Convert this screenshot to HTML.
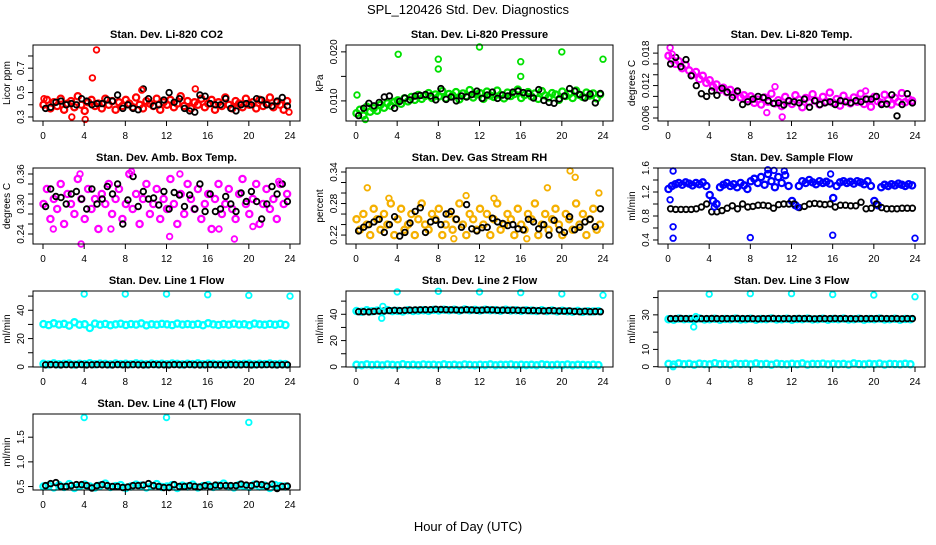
<!DOCTYPE html>
<html><head><meta charset="utf-8">
<style>
body{margin:0;background:#fff;}
svg text{font-family:"Liberation Sans",Arial,sans-serif;}
</style></head>
<body>
<svg id="chart" width="936" height="540" xmlns="http://www.w3.org/2000/svg">
<rect width="936" height="540" fill="#fff"/>
<text x="468" y="14" text-anchor="middle" font-size="13">SPL_120426  Std. Dev. Diagnostics</text>
<text x="468" y="531" text-anchor="middle" font-size="13">Hour of Day (UTC)</text>
</svg>
<script>
// ---- data ----
const co2Col=[0.40,0.44,0.37,0.42,0.39,0.45,0.36,0.41,0.43,0.38,0.47,0.40,0.35,0.42,0.44,0.39,0.41,0.37,0.45,0.40,0.43,0.36,0.42,0.39,0.44,0.41,0.38,0.46,0.40,0.37,0.43,0.41,0.39,0.45,0.36,0.42,0.40,0.44,0.38,0.41,0.47,0.39,0.43,0.37,0.42,0.40,0.45,0.38,0.41,0.44,0.36,0.42,0.39,0.46,0.40,0.37,0.43,0.41,0.38,0.45,0.40,0.42,0.37,0.44,0.39,0.41,0.46,0.38,0.42,0.40,0.36,0.43];
const co2Blk=[0.37,0.38,0.42,0.43,0.40,0.41,0.40,0.45,0.43,0.40,0.41,0.41,0.44,0.43,0.48,0.37,0.40,0.37,0.36,0.53,0.45,0.39,0.40,0.44,0.50,0.42,0.45,0.37,0.35,0.34,0.48,0.47,0.41,0.40,0.40,0.45,0.37,0.35,0.40,0.41,0.40,0.45,0.44,0.40,0.39,0.43,0.46,0.39];
const co2OutX=[5.2,4.8,2.8,4.1,9.6,14.8,0.1,23.9];
const co2OutY=[0.85,0.62,0.30,0.28,0.52,0.53,0.45,0.34];

const presCol=[0.0075,0.0082,0.0070,0.0088,0.0078,0.0085,0.0080,0.0092,0.0086,0.0095,0.0090,0.0098,0.0101,0.0094,0.0105,0.0099,0.0108,0.0102,0.0112,0.0104,0.0110,0.0116,0.0106,0.0113,0.0109,0.0120,0.0105,0.0114,0.0111,0.0118,0.0103,0.0115,0.0110,0.0122,0.0107,0.0113,0.0116,0.0104,0.0119,0.0111,0.0108,0.0121,0.0112,0.0105,0.0117,0.0110,0.0114,0.0123,0.0106,0.0112,0.0118,0.0109,0.0115,0.0104,0.0120,0.0111,0.0107,0.0116,0.0113,0.0102,0.0119,0.0110,0.0114,0.0106,0.0121,0.0112,0.0108,0.0117,0.0111,0.0115,0.0105,0.0113];
const presBlk=[0.0070,0.0085,0.0095,0.0090,0.0097,0.0108,0.0110,0.0085,0.0099,0.0106,0.0102,0.0110,0.0111,0.0113,0.0110,0.0102,0.0125,0.0103,0.0108,0.0100,0.0110,0.0108,0.0113,0.0120,0.0105,0.0112,0.0118,0.0105,0.0112,0.0110,0.0118,0.0120,0.0117,0.0115,0.0106,0.0123,0.0101,0.0097,0.0095,0.0104,0.0110,0.0125,0.0120,0.0113,0.0106,0.0114,0.0096,0.0115];
const presOutX=[4.1,8,8,12,16,16,20,24,0.1,0.9];
const presOutY=[0.0195,0.0185,0.0165,0.0210,0.0180,0.0150,0.0200,0.0185,0.0112,0.0062];

const tempCol=[0.0175,0.0168,0.0160,0.0165,0.0152,0.0158,0.0148,0.0140,0.0145,0.0132,0.0138,0.0125,0.0130,0.0118,0.0122,0.0112,0.0116,0.0108,0.0112,0.0103,0.0107,0.0098,0.0102,0.0095,0.0100,0.0088,0.0094,0.0085,0.0098,0.0090,0.0105,0.0087,0.0093,0.0082,0.0099,0.0091,0.0086,0.0102,0.0094,0.0080,0.0097,0.0089,0.0104,0.0092,0.0085,0.0099,0.0090,0.0107,0.0088,0.0095,0.0083,0.0101,0.0092,0.0087,0.0098,0.0090,0.0105,0.0086,0.0094,0.0081,0.0099,0.0091,0.0088,0.0103,0.0093,0.0085,0.0097,0.0090,0.0106,0.0089,0.0095,0.0092];
const tempBlk=[0.0160,0.0172,0.0155,0.0168,0.0138,0.0120,0.0105,0.0100,0.0110,0.0102,0.0115,0.0108,0.0098,0.0110,0.0085,0.0090,0.0095,0.0100,0.0098,0.0092,0.0087,0.0088,0.0084,0.0092,0.0090,0.0088,0.0095,0.0080,0.0092,0.0085,0.0088,0.0090,0.0085,0.0092,0.0090,0.0088,0.0092,0.0090,0.0095,0.0095,0.0100,0.0085,0.0086,0.0103,0.0064,0.0085,0.0105,0.0088];
const tempOutX=[0.2,11.1,9.6,10.4,19.2,0.4];
const tempOutY=[0.0190,0.0062,0.0070,0.0118,0.0110,0.0178];

const ambCol=[0.30,0.33,0.27,0.31,0.29,0.34,0.26,0.32,0.30,0.28,0.35,0.31,0.27,0.33,0.29,0.31,0.25,0.32,0.30,0.34,0.28,0.31,0.33,0.27,0.30,0.36,0.29,0.32,0.26,0.31,0.34,0.28,0.30,0.33,0.27,0.31,0.29,0.35,0.30,0.26,0.32,0.28,0.34,0.31,0.29,0.33,0.27,0.30,0.32,0.25,0.31,0.34,0.28,0.30,0.33,0.29,0.27,0.32,0.35,0.30,0.28,0.31,0.34,0.26,0.30,0.33,0.29,0.31,0.27,0.34,0.30,0.32];
const ambBlk=[0.295,0.33,0.315,0.313,0.30,0.32,0.325,0.31,0.29,0.33,0.30,0.31,0.335,0.32,0.34,0.26,0.308,0.355,0.295,0.325,0.31,0.312,0.298,0.325,0.29,0.323,0.318,0.295,0.318,0.29,0.34,0.285,0.32,0.285,0.29,0.315,0.30,0.285,0.322,0.305,0.325,0.305,0.27,0.30,0.335,0.32,0.34,0.305];
const ambOutX=[3.7,12.3,18.6,8.6,13.3,3.6,1.0,6.6,17.1,20.4,22.9];
const ambOutY=[0.22,0.235,0.23,0.365,0.36,0.36,0.25,0.25,0.25,0.255,0.345];

const rhCol=[0.25,0.23,0.26,0.24,0.22,0.27,0.25,0.23,0.26,0.24,0.28,0.22,0.25,0.27,0.23,0.24,0.26,0.22,0.25,0.28,0.24,0.23,0.26,0.25,0.27,0.22,0.24,0.26,0.23,0.25,0.28,0.24,0.22,0.26,0.25,0.23,0.27,0.24,0.26,0.22,0.25,0.28,0.23,0.24,0.26,0.25,0.22,0.27,0.24,0.23,0.26,0.25,0.28,0.22,0.24,0.26,0.23,0.25,0.27,0.24,0.22,0.26,0.25,0.23,0.28,0.24,0.26,0.22,0.25,0.27,0.23,0.24];
const rhBlk=[0.228,0.235,0.24,0.245,0.25,0.225,0.24,0.255,0.218,0.225,0.243,0.265,0.272,0.225,0.245,0.248,0.24,0.26,0.265,0.25,0.235,0.278,0.232,0.228,0.234,0.235,0.252,0.245,0.242,0.238,0.24,0.232,0.23,0.25,0.245,0.232,0.24,0.22,0.248,0.23,0.225,0.255,0.23,0.235,0.245,0.25,0.236,0.27];
const rhOutX=[20.8,21.3,1.1,18.6,3.2,10.7,13.4,23.6,9.5,16.6];
const rhOutY=[0.342,0.33,0.31,0.31,0.29,0.295,0.29,0.30,0.213,0.213];

const flowCol=[1.25,1.30,1.33,1.35,1.32,1.36,1.34,1.31,1.35,1.33,1.36,1.30,1.15,1.05,1.00,1.28,1.32,1.35,1.30,1.33,1.28,1.35,1.31,1.25,1.38,1.42,1.35,1.45,1.32,1.50,1.38,1.28,1.45,1.35,1.48,1.30,1.05,0.98,1.30,1.38,1.35,1.40,1.36,1.33,1.38,1.35,1.37,1.34,1.10,1.30,1.36,1.38,1.35,1.37,1.34,1.38,1.36,1.33,1.38,1.30,1.05,0.98,1.28,1.32,1.30,1.33,1.31,1.34,1.32,1.30,1.33,1.31];
const flowBlk=[0.92,0.91,0.91,0.91,0.91,0.92,0.95,1.0,0.87,0.87,0.89,0.93,0.97,0.92,1.0,0.95,0.96,0.98,0.98,0.97,0.93,0.99,1.0,1.0,1.0,0.94,0.96,1.0,1.01,1.0,0.99,1.0,0.95,0.98,0.98,0.97,0.97,1.03,0.92,0.93,1.0,0.94,0.92,0.92,0.92,0.93,0.93,0.93];
const flowOutX=[0.5,0.5,8,16,24,0.5,0.2,9.7,10.3,11.3,15.8,4.5,12.6];
const flowOutY=[0.62,0.43,0.44,0.48,0.43,1.55,1.07,1.57,1.56,1.55,1.50,0.95,0.95];

const l1Col=[30.2,29.5,30.8,29.9,30.4,29.2,31.5,29.8,30.1,27.5,30.6,29.7,30.3,29.4,30.0,30.5,29.6,30.2,29.9,30.7,29.3,30.1,29.8,30.4,30.0,29.5,30.6,29.9,30.2,29.7,30.3,29.4,30.8,30.0,29.6,30.2,29.8,30.5,29.9,30.1,29.4,30.6,30.0,29.7,30.3,29.8,30.4,29.6];
const l1Low=[2.2,1.8,2.5,1.9,2.1,2.4,1.7,2.2,2.0,2.6,1.9,2.3,2.1,1.8,2.4,2.0,2.2,1.9,2.5,2.1,1.8,2.3,2.0,2.2,1.9,2.4,2.1,1.8,2.2,2.0,2.5,1.9,2.3,2.1,1.8,2.2,2.0,2.4,1.9,2.1,2.3,1.8,2.2,2.0,2.4,1.9,2.1,2.0];
const l1Blk=[1.5,1.6,1.5,1.4,1.6,1.5,1.5,1.6,1.4,1.5,1.6,1.5,1.5,1.4,1.6,1.5,1.5,1.6,1.5,1.4,1.5,1.6,1.5,1.5,1.4,1.6,1.5,1.5,1.6,1.5,1.4,1.5,1.6,1.5,1.5,1.4,1.6,1.5,1.5,1.6,1.4,1.5,1.5,1.6,1.5,1.4,1.5,1.5];
const l1OutX=[4,8,12,16,20,24];
const l1OutY=[51.5,51.5,51.5,51,50.5,50];

const l2Col=[42.5,42.0,43.0,42.3,42.8,41.9,43.2,42.4,42.6,42.1,43.0,42.5,42.8,43.1,42.6,43.3,42.9,43.5,43.0,43.4,42.8,43.6,43.1,43.3,42.9,43.5,43.0,43.2,42.7,43.4,42.9,43.1,42.6,43.0,42.8,42.5,43.1,42.4,42.9,42.2,42.7,42.3,42.0,42.6,41.8,42.3,42.1,42.4];
const l2Low=[1.6,1.2,1.9,1.4,1.7,1.1,1.8,1.5,1.3,2.0,1.4,1.6,1.2,1.8,1.5,1.7,1.3,1.9,1.4,1.6,1.1,1.8,1.5,1.3,1.7,1.4,1.9,1.2,1.6,1.5,1.8,1.3,1.7,1.4,1.6,1.2,1.9,1.5,1.3,1.7,1.4,1.8,1.2,1.6,1.5,1.3,1.7,1.4];
const l2Blk=[42.0,42.0,41.8,42.2,42.5,42.6,42.8,43.0,42.8,43.0,43.2,43.3,43.4,43.5,43.5,43.8,43.6,43.5,43.4,43.3,43.2,43.5,43.3,43.0,43.2,43.4,43.3,43.1,43.2,43.0,43.2,43.0,43.0,42.8,42.9,42.7,42.6,42.8,42.7,42.5,42.4,42.6,42.2,42.0,42.3,42.0,42.1,42.0];
const l2OutX=[4,8,12,16,20,24,2.5,2.6];
const l2OutY=[57,57.5,57,56.5,55.5,54.5,37,46];

const l3Col=[27.5,27.2,27.8,27.4,27.6,27.1,27.9,27.3,27.5,27.7,27.2,27.6,27.4,27.8,27.3,27.5,27.7,27.2,27.6,27.4,27.9,27.3,27.5,27.7,27.2,27.6,27.4,27.8,27.3,27.5,27.7,27.2,27.6,27.4,27.8,27.3,27.5,27.7,27.2,27.6,27.4,27.8,27.3,27.5,27.7,27.2,27.6,27.4];
const l3Low=[1.6,1.2,1.9,1.4,1.7,1.1,1.8,1.5,1.3,2.0,1.4,1.6,1.2,1.8,1.5,1.7,1.3,1.9,1.4,1.6,1.1,1.8,1.5,1.3,1.7,1.4,1.9,1.2,1.6,1.5,1.8,1.3,1.7,1.4,1.6,1.2,1.9,1.5,1.3,1.7,1.4,1.8,1.2,1.6,1.5,1.3,1.7,1.4];
const l3Blk=[27.8,27.8,27.9,27.8,27.8,27.7,27.8,27.8,27.9,27.8,27.8,27.8,27.8,27.9,27.8,27.8,27.8,27.7,27.8,27.8,27.9,27.8,27.8,27.8,27.8,27.9,27.8,27.8,27.7,27.8,27.8,27.8,27.9,27.8,27.8,27.8,27.7,27.8,27.8,27.8,27.8,27.9,27.8,27.8,27.8,27.7,27.8,27.8];
const l3OutX=[4,8,12,16,20,24,2.5,2.7,0.5];
const l3OutY=[42,42.3,42.3,41.8,41.5,40.5,23,29,0];

const l4Col=[0.50,0.52,0.48,0.53,0.49,0.55,0.47,0.51,0.54,0.50,0.48,0.52,0.56,0.49,0.51,0.53,0.47,0.50,0.54,0.52,0.48,0.51,0.55,0.49,0.50,0.53,0.47,0.52,0.50,0.54,0.48,0.51,0.53,0.49,0.52,0.56,0.50,0.48,0.53,0.51,0.49,0.54,0.50,0.52,0.47,0.53,0.51,0.50];
const l4Blk=[0.52,0.56,0.58,0.50,0.50,0.52,0.54,0.54,0.52,0.47,0.52,0.54,0.52,0.50,0.50,0.48,0.49,0.52,0.52,0.53,0.56,0.52,0.50,0.48,0.48,0.54,0.50,0.50,0.52,0.50,0.49,0.52,0.50,0.53,0.52,0.52,0.52,0.52,0.55,0.53,0.52,0.55,0.54,0.51,0.55,0.46,0.50,0.51];
const l4OutX=[4,12,20];
const l4OutY=[1.9,1.9,1.8];

// ---- panel specs ----
const colLeft=[33,346,658], rowTop=[45,168,291,414], W=267, H=76;
const panels=[
 {name:'co2',title:'Stan. Dev. Li-820 CO2',ylab:'Licor ppm',c:0,r:0,lo:0.267,hi:0.89,ticks:[0.3,0.4,0.5,0.6,0.7,0.8],labs:[0.3,0.5,0.7],dec:1,color:'#ff0000',series:[co2Col],blk:co2Blk,ox:co2OutX,oy:co2OutY},
 {name:'pressure',title:'Stan. Dev. Li-820 Pressure',ylab:'kPa',c:1,r:0,lo:0.0059,hi:0.0214,ticks:[0.010,0.015,0.020],labs:[0.010,0.020],dec:3,color:'#00e000',series:[presCol],blk:presBlk,ox:presOutX,oy:presOutY},
 {name:'temp',title:'Stan. Dev. Li-820 Temp.',ylab:'degrees C',c:2,r:0,lo:0.00545,hi:0.0195,ticks:[0.006,0.008,0.010,0.012,0.014,0.016,0.018],labs:[0.006,0.012,0.018],dec:3,color:'#ff00ff',series:[tempCol],blk:tempBlk,ox:tempOutX,oy:tempOutY},
 {name:'amb-box-temp',title:'Stan. Dev. Amb. Box Temp.',ylab:'degrees C',c:0,r:1,lo:0.22,hi:0.372,ticks:[0.24,0.26,0.28,0.30,0.32,0.34,0.36],labs:[0.24,0.30,0.36],dec:2,color:'#ff00ff',series:[ambCol],blk:ambBlk,ox:ambOutX,oy:ambOutY},
 {name:'gas-rh',title:'Stan. Dev. Gas Stream RH',ylab:'percent',c:1,r:1,lo:0.203,hi:0.3476,ticks:[0.22,0.24,0.26,0.28,0.30,0.32,0.34],labs:[0.22,0.28,0.34],dec:2,color:'#f5b000',series:[rhCol],blk:rhBlk,ox:rhOutX,oy:rhOutY},
 {name:'sample-flow',title:'Stan. Dev. Sample Flow',ylab:'ml/min',c:2,r:1,lo:0.333,hi:1.6,ticks:[0.4,0.6,0.8,1.0,1.2,1.4,1.6],labs:[0.4,0.8,1.2,1.6],dec:1,color:'#0000ff',series:[flowCol],blk:flowBlk,ox:flowOutX,oy:flowOutY},
 {name:'line1-flow',title:'Stan. Dev. Line 1 Flow',ylab:'ml/min',c:0,r:2,lo:-0.07,hi:53.6,ticks:[0,10,20,30,40,50],labs:[0,20,40],dec:0,color:'#00ffff',series:[l1Col,l1Low],blk:l1Blk,ox:l1OutX,oy:l1OutY},
 {name:'line2-flow',title:'Stan. Dev. Line 2 Flow',ylab:'ml/min',c:1,r:2,lo:-0.08,hi:57.7,ticks:[0,10,20,30,40,50],labs:[0,20,40],dec:0,color:'#00ffff',series:[l2Col,l2Low],blk:l2Blk,ox:l2OutX,oy:l2OutY},
 {name:'line3-flow',title:'Stan. Dev. Line 3 Flow',ylab:'ml/min',c:2,r:2,lo:-0.18,hi:43.8,ticks:[0,10,20,30,40],labs:[0,10,30],dec:0,color:'#00ffff',series:[l3Col,l3Low],blk:l3Blk,ox:l3OutX,oy:l3OutY},
 {name:'line4-flow',title:'Stan. Dev. Line 4 (LT) Flow',ylab:'ml/min',c:0,r:3,lo:0.43,hi:1.97,ticks:[0.5,1.0,1.5],labs:[0.5,1.0,1.5],dec:1,color:'#00ffff',series:[l4Col],blk:l4Blk,ox:l4OutX,oy:l4OutY}
];
const xTicks=[0,4,8,12,16,20,24];

const NS='http://www.w3.org/2000/svg';
const svg=document.getElementById('chart');
function mk(tag,attrs,parent){const e=document.createElementNS(NS,tag);for(const k in attrs)e.setAttribute(k,attrs[k]);parent.appendChild(e);return e;}

panels.forEach(p=>{
  const L=colLeft[p.c], T=rowTop[p.r];
  const xs=v=>L+10+v/24*(W-20);
  const ys=v=>T+(p.hi-v)/(p.hi-p.lo)*H;
  const g=mk('g',{},svg);
  
  
  const t=mk('text',{x:L+W/2,y:T-7,'text-anchor':'middle','font-size':'11','font-weight':'bold'},g);
  t.textContent=p.title;
  
  
  const pts=mk('g',{},g);
  
  
  function dot(x,y,col,r,sw){
    if(y<p.lo-(p.hi-p.lo)*0.05||y>p.hi+(p.hi-p.lo)*0.05)return;
    const c=mk('circle',{cx:xs(x).toFixed(1),cy:ys(y).toFixed(1),r:r,fill:'none',stroke:col,'stroke-width':sw},pts);
    
    
  }
  p.series.forEach(s=>{const n=s.length;s.forEach((v,i)=>dot(i*24/n+0.05,v,p.color,3.1,2.3));});
  const nb=p.blk.length;
  p.blk.forEach((v,i)=>dot((i+0.5)*24/nb,v,'#000',2.8,1.8));
  p.ox.forEach((x,i)=>dot(x,p.oy[i],p.color,2.8,1.8));
  const box=mk('rect',{x:L,y:T,width:W,height:H,fill:'none',stroke:'#000','stroke-width':1},g);
  
  
  xTicks.forEach(v=>{
    const x=xs(v);
    const tk=mk('line',{x1:x,x2:x,y1:T+H,y2:T+H+5,stroke:'#000'},g);
    
    
    const tl=mk('text',{x:x,y:T+H+18,'text-anchor':'middle','font-size':'10'},g);
    tl.textContent=v;
    
    
  });
  p.ticks.forEach(v=>{
    const y=ys(v);
    const tk=mk('line',{x1:L-5,x2:L,y1:y,y2:y,stroke:'#000'},g);
    
    
  });
  p.labs.forEach(v=>{
    const y=ys(v);
    const tl=mk('text',{x:0,y:0,'text-anchor':'middle','font-size':'10',transform:`translate(${L-9},${y}) rotate(-90)`},g);
    tl.textContent=v.toFixed(p.dec);
    
    
  });
  const yl=mk('text',{x:0,y:0,'text-anchor':'middle','font-size':'10',transform:`translate(${L-23},${T+H/2}) rotate(-90)`},g);
  yl.textContent=p.ylab;
  
  
});
</script>
</body></html>
